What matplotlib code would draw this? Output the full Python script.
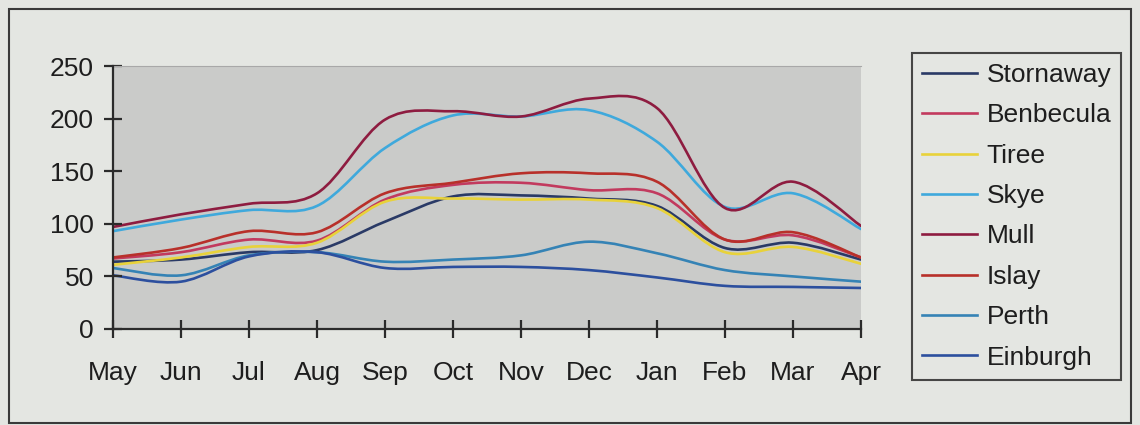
import numpy as np
import matplotlib
matplotlib.use("Agg")
import matplotlib.pyplot as plt
from matplotlib.path import Path
from matplotlib.patches import PathPatch, Rectangle
from matplotlib.lines import Line2D

months = ["May", "Jun", "Jul", "Aug", "Sep", "Oct", "Nov", "Dec", "Jan", "Feb", "Mar", "Apr"]

stornaway = [64, 66, 73, 75, 102, 126, 127, 124, 117, 77, 82, 66]
benbecula = [67, 73, 85, 84, 123, 137, 139, 132, 129, 85, 89, 68]
tiree = [61, 68, 78, 82, 121, 124, 123, 123, 115, 73, 78, 62]
skye = [93, 104, 113, 117, 172, 203, 202, 208, 178, 116, 129, 95]
mull = [97, 109, 119, 129, 199, 207, 202, 219, 210, 115, 140, 98]
islay = [68, 77, 93, 92, 129, 139, 148, 148, 140, 85, 92, 68]
perth = [58, 51, 70, 73, 64, 66, 70, 83, 72, 56, 50, 45]
einburgh = [51, 45, 69, 73, 58, 59, 59, 56, 49, 41, 40, 39]

names = ["Stornaway", "Benbecula", "Tiree", "Skye", "Mull", "Islay", "Perth", "Einburgh"]
series = [stornaway, benbecula, tiree, skye, mull, islay, perth, einburgh]
colors = ["#2a3a66", "#c23a5e", "#e8d23a", "#3fa9dc", "#8e1c40", "#b8302a", "#3583b5", "#2c4f9e"]


def smooth_path(xs, ys):
    # Excel style smoothed line: cubic bezier through every point
    pts = np.column_stack([xs, ys]).astype(float)
    verts = [pts[0]]
    codes = [Path.MOVETO]
    n = len(pts)
    for i in range(n - 1):
        p0 = pts[max(i - 1, 0)]
        p1 = pts[i]
        p2 = pts[i + 1]
        p3 = pts[min(i + 2, n - 1)]
        c1 = p1 + (p2 - p0) / 6.0
        c2 = p2 - (p3 - p1) / 6.0
        verts += [c1, c2, p2]
        codes += [Path.CURVE4] * 3
    return Path(verts, codes)


plt.rcParams['font.family'] = ['Liberation Sans', 'DejaVu Sans']

fig = plt.figure(figsize=(11.4, 4.25), dpi=100)
fig.patch.set_facecolor("#e4e6e2")
ax = fig.add_axes([113 / 1140, 1 - 329 / 425, (861 - 113) / 1140, (329 - 66) / 425])
ax.set_facecolor("#cacbc9")

x = np.arange(len(months))
for vals, c in zip(series, colors):
    ax.add_patch(PathPatch(smooth_path(x, vals), fill=False, edgecolor=c, lw=1.9,
                           capstyle="round", joinstyle="round"))

ax.set_xlim(0, len(months) - 1)
ax.set_ylim(0, 250)
ax.set_xticks(x)
ax.set_xticklabels(months)
ax.set_yticks(np.arange(0, 251, 50))

for s in ["top", "right"]:
    ax.spines[s].set_visible(False)
for s in ["left", "bottom"]:
    ax.spines[s].set_color("#2b2b2b")
    ax.spines[s].set_linewidth(1.6)
ax.plot([0, 11], [250, 250], color="#a8a8a8", lw=0.8, clip_on=False)

ax.tick_params(axis="both", direction="inout", length=13.5, width=1.6, color="#2b2b2b",
               labelsize=19, labelcolor="#1e1e1e")
ax.tick_params(axis="y", pad=7)
ax.tick_params(axis="x", pad=16.5)

handles = [Line2D([], [], color=c, lw=1.9) for c in colors]
leg = fig.legend(handles, names, loc="upper left", bbox_to_anchor=(912 / 1140, 1 - 53 / 425),
                 bbox_transform=fig.transFigure, fontsize=19, frameon=True, fancybox=False,
                 borderaxespad=0, handlelength=2.1, handletextpad=0.35, labelspacing=0.62,
                 borderpad=0.38)
leg.get_frame().set_edgecolor("#1e1e1e")
leg.get_frame().set_linewidth(1.5)
leg.get_frame().set_facecolor("#e4e6e2")
for t in leg.get_texts():
    t.set_color("#1e1e1e")

fig.patches.append(Rectangle((9 / 1140, 2 / 425), 1122 / 1140, 414 / 425, transform=fig.transFigure,
                             fill=False, edgecolor="#3a3a3a", lw=1.5))

fig.savefig("out.png", dpi=100, facecolor=fig.get_facecolor())
